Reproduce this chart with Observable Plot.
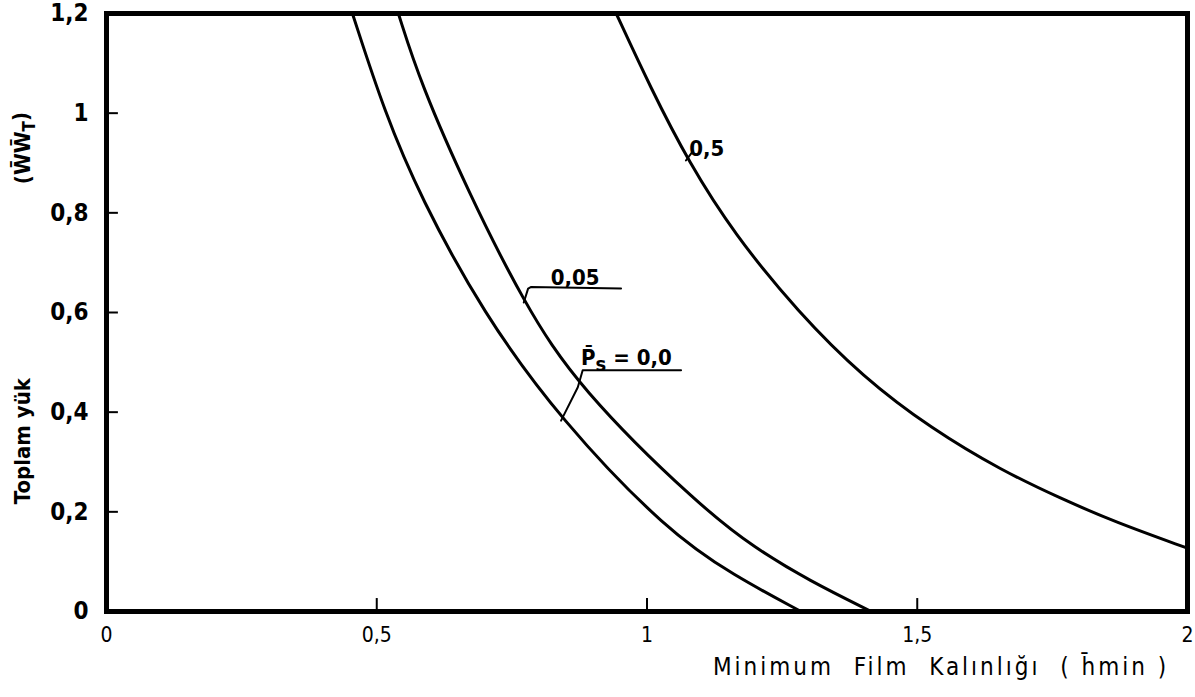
<!DOCTYPE html>
<html><head><meta charset="utf-8">
<script src="https://cdn.jsdelivr.net/npm/d3@7"></script>
<script src="https://cdn.jsdelivr.net/npm/@observablehq/plot@0.6"></script>
<style>body{margin:0;background:#fff} svg{display:block}</style>
</head><body><div id="chart"></div>
<script>
// Curves: minimum film thickness (h) vs total load (W)
const ps00_h = [0.455, 0.515, 0.581, 0.696, 0.841, 1.039, 1.161, 1.285];
const ps00_w = [1.2, 1.0, 0.831, 0.60, 0.383, 0.160, 0.072, 0];
const ps005_h = [0.54, 0.581, 0.67, 0.772, 0.872, 1.100, 1.2, 1.3, 1.415];
const ps005_w = [1.2, 1.06, 0.84, 0.62, 0.450, 0.209, 0.127, 0.062, 0];
const ps05_h = [0.943, 1.007, 1.078, 1.161, 1.280, 1.40, 1.526, 1.656, 1.767, 1.865, 2.0];
const ps05_w = [1.2, 1.05, 0.90, 0.758, 0.60, 0.47, 0.367, 0.283, 0.226, 0.18, 0.127];

// Axis ticks
const xTicks = [0, 0.5, 1, 1.5, 2];
const xTickLabels = ["0", "0,5", "1", "1,5", "2"];
const yTicks = [0, 0.2, 0.4, 0.6, 0.8, 1, 1.2];
const yTickLabels = ["0", "0,2", "0,4", "0,6", "0,8", "1", "1,2"];
const xInner = [0.5, 1, 1.5];
const yInner = [0.2, 0.4, 0.6, 0.8, 1];

// Curve labels
const labelText = ["0,5", "0,05", "P̄s = 0,0"];
const labelH = [1.078, 0.822, 0.878];
const labelW = [0.915, 0.655, 0.494];
// leader lines (one array of points per label)
const leader05_h = [1.072, 1.085];
const leader05_w = [0.905, 0.924];
const leader005_h = [0.772, 0.780, 0.785, 0.952];
const leader005_w = [0.62, 0.648, 0.651, 0.648];
const leader00_h = [0.841, 0.872, 0.881, 1.063];
const leader00_w = [0.383, 0.450, 0.484, 0.484];

const xTitle = "Minimum  Film  Kalınlığı  ( h̄min )";
const yTitle1 = "Toplam yük";
const yTitle2 = "(W̄W̄T)";

const toPts = (hs, ws, s) => hs.map((h, i) => ({h, w: ws[i], s}));
const curves = [
  ...toPts(ps00_h, ps00_w, "0.0"),
  ...toPts(ps005_h, ps005_w, "0.05"),
  ...toPts(ps05_h, ps05_w, "0.5")
];
const leaders = [
  ...toPts(leader05_h, leader05_w, "a"),
  ...toPts(leader005_h, leader005_w, "b"),
  ...toPts(leader00_h, leader00_w, "c")
];
const labels = labelText.map((t, i) => ({t, h: labelH[i], w: labelW[i]}));
const fx = d => xTickLabels[xTicks.indexOf(d)];
const fy = d => yTickLabels[yTicks.indexOf(d)];

const chart = Plot.plot({
  width: 1195, height: 697,
  marginLeft: 106, marginRight: 8, marginTop: 13, marginBottom: 86,
  x: {domain: [0, 2]},
  y: {domain: [0, 1.2]},
  style: {fontFamily: "'DejaVu Sans Condensed', 'DejaVu Sans', sans-serif", color: "#000", background: "#fff"},
  marks: [
    Plot.ruleY(yInner, {y: d => d, x1: 0, x2: 0.022, strokeWidth: 2}),
    Plot.ruleX(xInner, {x: d => d, y1: 0, y2: 0.026, strokeWidth: 2}),
    Plot.line(curves, {x: "h", y: "w", z: "s", curve: "basis", stroke: "#000", strokeWidth: 3}),
    Plot.line(leaders, {x: "h", y: "w", z: "s", stroke: "#000", strokeWidth: 2}),
    Plot.text(labels, {x: "h", y: "w", text: "t", textAnchor: "start", lineAnchor: "bottom", fontSize: 22, fontWeight: "bold"}),
    Plot.frame({stroke: "#000", strokeWidth: 5}),
    Plot.axisY(yTicks, {tickSize: 0, tickPadding: 18, tickFormat: fy, fontSize: 24, fontWeight: "bold", label: null}),
    Plot.axisX(xTicks, {tickSize: 0, tickPadding: 16, tickFormat: fx, fontSize: 21, label: null}),
    Plot.text([xTitle], {x: 1.122, y: 0, dy: 56, text: d => d, textAnchor: "start", fontSize: 24}),
    Plot.text([yTitle1], {x: 0, y: 0.342, dx: -84, rotate: -90, text: d => d, fontSize: 22, fontWeight: "bold"}),
    Plot.text([yTitle2], {x: 0, y: 0.93, dx: -84, rotate: -90, text: d => d, fontSize: 22, fontWeight: "bold"})
  ]
});
document.getElementById("chart").append(chart);

// typographic touches: subscripts and letter spacing
d3.select(chart).selectAll("text").each(function() {
  const t = this.textContent;
  const sel = d3.select(this);
  if (t === "P̄s = 0,0") {
    sel.text(null);
    sel.append("tspan").text("P̄");
    sel.append("tspan").attr("dy", "0.3em").attr("font-size", 20).text("s");
    sel.append("tspan").attr("dy", "-0.3em").text(" = 0,0");
  } else if (t === yTitle2) {
    sel.text(null);
    sel.append("tspan").text("(W̄W̄");
    sel.append("tspan").attr("dy", "0.3em").attr("font-size", 17).text("T");
    sel.append("tspan").attr("dy", "-0.3em").text(")");
  } else if (t === xTitle) {
    sel.attr("letter-spacing", "3px");
  }
});
</script>
</body></html>
